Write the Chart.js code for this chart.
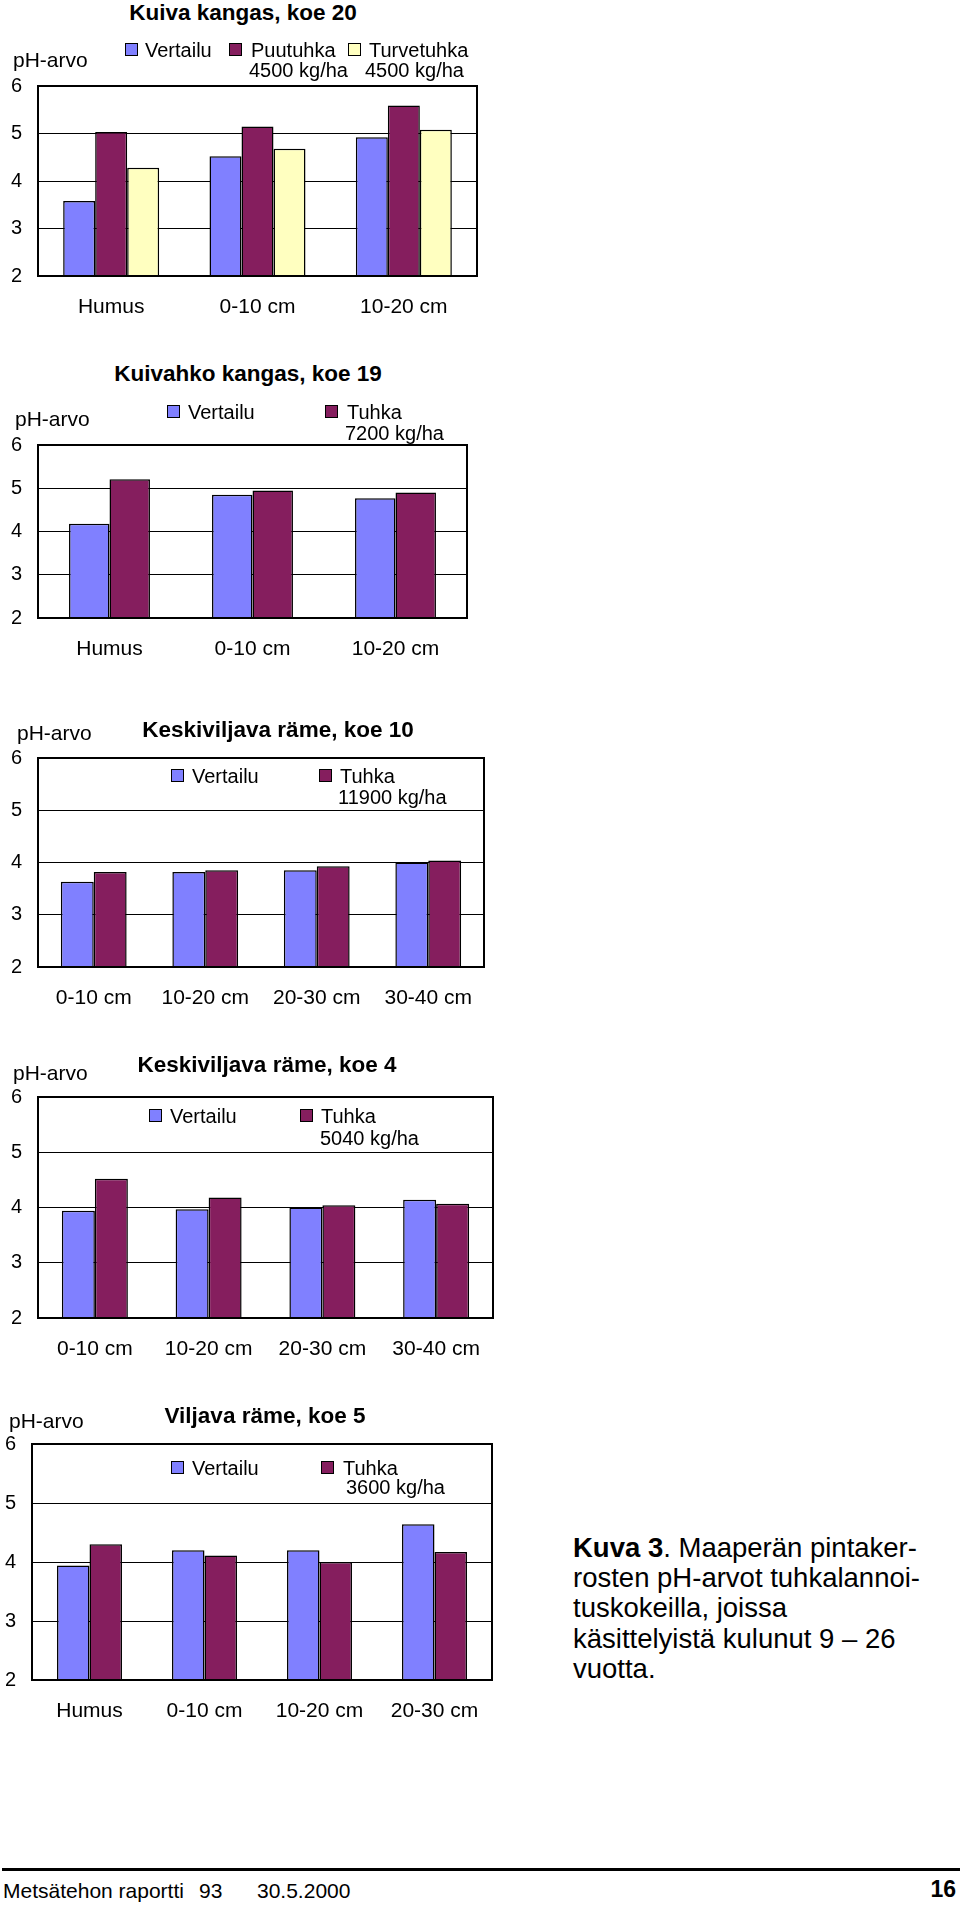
<!DOCTYPE html>
<html lang="fi">
<head>
<meta charset="utf-8">
<title>Kuva 3</title>
<script src="https://cdn.jsdelivr.net/npm/chart.js@4.4.1/dist/chart.umd.min.js"></script>
<style>
  html, body { margin:0; padding:0; background:#fff; }
  #page { position:relative; width:960px; height:1905px; overflow:hidden; background:#fff;
          font-family:"Liberation Sans", Arial, Helvetica, sans-serif; color:#000; }
  .t { position:absolute; white-space:nowrap; line-height:1.2; }
  .box { position:absolute; width:11px; height:11px; border:1.5px solid #000; }
  canvas { position:absolute; }
</style>
</head>
<body>
<div id="page"></div>
<script>
// ---------------- DATA ----------------
const yMin = 2, yMax = 6, yStep = 1;

const categories1 = ['Humus', '0-10 cm', '10-20 cm'];
const vertailu1   = [3.58, 4.52, 4.92];
const puutuhka1   = [5.03, 5.15, 5.59];
const turvetuhka1 = [4.28, 4.68, 5.08];

const categories2 = ['Humus', '0-10 cm', '10-20 cm'];
const vertailu2   = [4.18, 4.85, 4.77];
const tuhka2      = [5.21, 4.95, 4.90];

const categories3 = ['0-10 cm', '10-20 cm', '20-30 cm', '30-40 cm'];
const vertailu3   = [3.63, 3.82, 3.85, 4.00];
const tuhka3      = [3.82, 3.85, 3.93, 4.04];

const categories4 = ['0-10 cm', '10-20 cm', '20-30 cm', '30-40 cm'];
const vertailu4   = [3.94, 3.97, 4.00, 4.14];
const tuhka4      = [4.52, 4.18, 4.04, 4.07];

const categories5 = ['Humus', '0-10 cm', '10-20 cm', '20-30 cm'];
const vertailu5   = [3.94, 4.20, 4.20, 4.64];
const tuhka5      = [4.30, 4.11, 4.00, 4.17];

const titles = ['Kuiva kangas, koe 20', 'Kuivahko kangas, koe 19', 'Keskiviljava räme, koe 10',
                'Keskiviljava räme, koe 4', 'Viljava räme, koe 5'];
const yAxisLabel = 'pH-arvo';

// ---------------- STYLE / LAYOUT ----------------
const FONT = '"Liberation Sans", Arial, Helvetica, sans-serif';
const C_V = '#8080FF', C_T = '#851E5E', C_TT = '#FFFFC0';

const charts = [
  { title: titles[0], cats: categories1,
    series: [ {name:'Vertailu', dose:'', data:vertailu1, color:C_V},
              {name:'Puutuhka', dose:'4500 kg/ha', data:puutuhka1, color:C_T},
              {name:'Turvetuhka', dose:'4500 kg/ha', data:turvetuhka1, color:C_TT} ],
    plot:{l:38, t:86, r:477, b:276}, catPct:0.656,
    titleAt:[243, 12], phAt:[13, 59],
    legendY:[50, 70], legendX:[[125,145,0],[229,251,249],[348,369,365]] },
  { title: titles[1], cats: categories2,
    series: [ {name:'Vertailu', dose:'', data:vertailu2, color:C_V},
              {name:'Tuhka', dose:'7200 kg/ha', data:tuhka2, color:C_T} ],
    plot:{l:38, t:445, r:467, b:618}, catPct:0.566,
    titleAt:[248, 373], phAt:[15, 418],
    legendY:[412, 433], legendX:[[167,188,0],[325,347,345]] },
  { title: titles[2], cats: categories3,
    series: [ {name:'Vertailu', dose:'', data:vertailu3, color:C_V},
              {name:'Tuhka', dose:'11900 kg/ha', data:tuhka3, color:C_T} ],
    plot:{l:38, t:758, r:484, b:967}, catPct:0.59,
    titleAt:[278, 729], phAt:[17, 732],
    legendY:[776, 797], legendX:[[171,192,0],[319,340,338]] },
  { title: titles[3], cats: categories4,
    series: [ {name:'Vertailu', dose:'', data:vertailu4, color:C_V},
              {name:'Tuhka', dose:'5040 kg/ha', data:tuhka4, color:C_T} ],
    plot:{l:38, t:1097, r:493, b:1318}, catPct:0.58,
    titleAt:[267, 1064], phAt:[13, 1072],
    legendY:[1116, 1138], legendX:[[149,170,0],[300,321,320]] },
  { title: titles[4], cats: categories5,
    series: [ {name:'Vertailu', dose:'', data:vertailu5, color:C_V},
              {name:'Tuhka', dose:'3600 kg/ha', data:tuhka5, color:C_T} ],
    plot:{l:32, t:1444, r:492, b:1680}, catPct:0.565,
    titleAt:[265, 1415], phAt:[9, 1420],
    legendY:[1468, 1487], legendX:[[171,192,0],[321,343,346]] }
];

const page = document.getElementById('page');

function text(str, x, yc, size, opts) {
  opts = opts || {};
  const d = document.createElement('div');
  d.className = 't';
  d.textContent = str;
  d.style.fontSize = size + 'px';
  if (opts.bold) d.style.fontWeight = 'bold';
  d.style.top = (yc - 0.59 * size) + 'px';
  if (opts.center) {
    d.style.left = (x - 300) + 'px';
    d.style.width = '600px';
    d.style.textAlign = 'center';
  } else if (opts.right) {
    d.style.right = (960 - x) + 'px';
  } else {
    d.style.left = x + 'px';
  }
  page.appendChild(d);
  return d;
}

const framePlugin = {
  id: 'frame',
  afterDraw(chart) {
    const a = chart.chartArea, ctx = chart.ctx;
    ctx.save();
    ctx.strokeStyle = '#000';
    ctx.lineWidth = 2;
    ctx.strokeRect(a.left, a.top, a.right - a.left, a.bottom - a.top);
    ctx.restore();
  }
};

const X_AXIS_H = 50;

function makeConfig(c, W) {
  return {
    type: 'bar',
    data: {
      labels: c.cats,
      datasets: c.series.map(s => ({
        label: s.name, data: s.data,
        backgroundColor: s.color, borderColor: '#000', borderWidth: 1.5,
        categoryPercentage: c.catPct, barPercentage: 1
      }))
    },
    options: {
      responsive: false, maintainAspectRatio: false, animation: false, devicePixelRatio: 1,
      layout: { padding: { top: 0, right: W - c.plot.r, left: 0, bottom: 0 } },
      plugins: { legend: { display: false }, tooltip: { enabled: false }, title: { display: false } },
      scales: {
        x: {
          grid: { display: false, drawTicks: false },
          border: { display: true, color: '#000', width: 2 },
          ticks: { color: '#000', font: { family: FONT, size: 21 }, padding: 19,
                   maxRotation: 0, minRotation: 0, autoSkip: false },
          afterFit(s) { s.height = X_AXIS_H; }
        },
        y: {
          min: yMin, max: yMax,
          ticks: { stepSize: yStep, color: '#000', font: { family: FONT, size: 20 }, padding: 16 },
          grid: { color: '#000', lineWidth: 1, drawTicks: false },
          border: { color: '#000', width: 2 },
          afterFit(s) { s.width = c.plot.l; }
        }
      }
    },
    plugins: [framePlugin]
  };
}

function makeCanvas(W, H) {
  const cv = document.createElement('canvas');
  cv.width = W; cv.height = H;
  cv.style.left = '0px';
  cv.style.width = W + 'px'; cv.style.height = H + 'px';
  page.appendChild(cv);
  return cv;
}

charts.forEach((c) => {
  const W = c.plot.r + 22;
  const plotH = c.plot.b - c.plot.t;
  // first pass: measure how Chart.js places the plot area
  let H = 20 + plotH + X_AXIS_H;
  let cv = makeCanvas(W, H);
  let chart = new Chart(cv.getContext('2d'), makeConfig(c, W));
  const off = chart.chartArea.top;
  const curH = chart.chartArea.bottom - chart.chartArea.top;
  chart.destroy();
  cv.remove();
  // second pass: canvas sized so the plot area matches the reference frame
  H = Math.round(H + (plotH - curH));
  cv = makeCanvas(W, H);
  chart = new Chart(cv.getContext('2d'), makeConfig(c, W));
  cv.style.top = (c.plot.t - chart.chartArea.top) + 'px';

  // overlays: title, axis label, legend
  text(c.title, c.titleAt[0], c.titleAt[1], 22.5, { bold: true, center: true });
  text(yAxisLabel, c.phAt[0], c.phAt[1], 21);
  c.series.forEach((s, k) => {
    const [bx, tx, dx] = c.legendX[k];
    const b = document.createElement('div');
    b.className = 'box';
    b.style.left = bx + 'px';
    b.style.top = (c.legendY[0] - 7) + 'px';
    b.style.background = s.color;
    page.appendChild(b);
    text(s.name, tx, c.legendY[0], 20);
    if (s.dose) text(s.dose, dx, c.legendY[1], 20);
  });
});

// caption
const capLines = [
  null,
  'rosten pH-arvot tuhkalannoi-',
  'tuskokeilla, joissa',
  'käsittelyistä kulunut 9 – 26',
  'vuotta.'
];
const cap0 = text('', 573, 1547, 27.5);
const bold = document.createElement('b'); bold.textContent = 'Kuva 3';
cap0.appendChild(bold);
cap0.appendChild(document.createTextNode('. Maaperän pintaker-'));
capLines.forEach((l, k) => { if (l) text(l, 573, 1547 + k * 30.3, 27.5); });

// footer
const rule = document.createElement('div');
rule.style.cssText = 'position:absolute;left:2px;width:958px;top:1868px;height:3px;background:#000;';
page.appendChild(rule);
text('Metsätehon raportti', 3, 1890, 21);
text('93', 199, 1890, 21);
text('30.5.2000', 257, 1890, 21);
text('16', 956, 1890, 23, { bold: true, right: true });
</script>
</body>
</html>
